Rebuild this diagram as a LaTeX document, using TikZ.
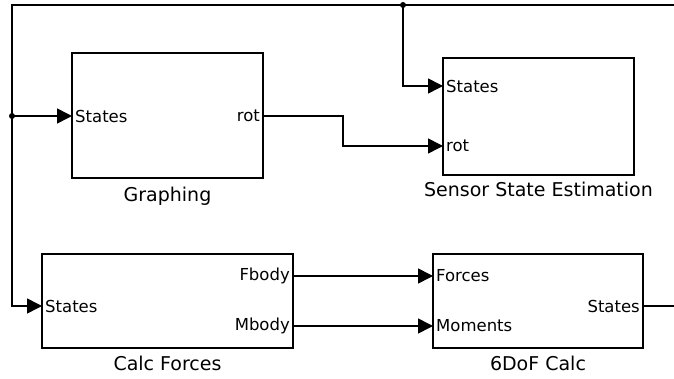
\documentclass[tikz,border=0pt]{standalone}
\usepackage{fontspec}
\setmainfont{DejaVu Sans}
\usetikzlibrary{arrows.meta,positioning}

\begin{document}
\begin{tikzpicture}[x=1pt, y=-1pt,
    block/.style={draw, line width=1.6pt, inner sep=0pt},
    port/.style={font=\fontsize{16.5}{19}\selectfont, inner sep=3pt},
    lbl/.style={font=\fontsize{19}{22}\selectfont, inner sep=2pt},
    arr/.style={-{Triangle[length=15pt,width=15pt]}, line width=1.6pt}
]
\useasboundingbox (0,0) rectangle (674,379);

% blocks
\node[block, minimum width=191pt, minimum height=125pt] (G) at (167.5,115.5) {};
\node[block, minimum width=191pt, minimum height=117pt] (S) at (538.5,116.5) {};
\node[block, minimum width=251pt, minimum height=94pt] (F) at (167.5,301) {};
\node[block, minimum width=210pt, minimum height=94pt] (D) at (538,301) {};

\node[lbl, below=6pt of G] {Graphing};
\node[lbl, below=4pt of S] {Sensor State Estimation};
\node[lbl, below=5pt of F] {Calc Forces};
\node[lbl, below=5pt of D] {6DoF Calc};

% ports
\node[port, anchor=west] (Gst) at (72,116) {States};
\node[port, anchor=east] (Grot) at (263,116) {rot};
\node[port, anchor=west] (Sst) at (443,86) {States};
\node[port, anchor=west] (Srot) at (443,146) {rot};
\node[port, anchor=west] (Fst) at (42,306) {States};
\node[port, anchor=east] (Ffb) at (293,276) {Fbody};
\node[port, anchor=east] (Fmb) at (293,326) {Mbody};
\node[port, anchor=west] (Dfo) at (433,276) {Forces};
\node[port, anchor=west] (Dmo) at (433,326) {Moments};
\node[port, anchor=east] (Dst) at (643,306) {States};

% branch points
\coordinate (j1) at (12,116);
\coordinate (j2) at (403,5);

% wires
\draw[arr] (Dst.east) -- ++(60,0) |- (j2) -| (j1) |- (Fst.west);
\draw[arr] (j1) -- (Gst.west);
\draw[arr] (j2) |- (Sst.west);
\draw[arr] (Grot.east) -- ++(80,0) |- (Srot.west);
\draw[arr] (Ffb.east) -- (Dfo.west);
\draw[arr] (Fmb.east) -- (Dmo.west);
\fill (j1) circle (3);
\fill (j2) circle (3);
\end{tikzpicture}
\end{document}
